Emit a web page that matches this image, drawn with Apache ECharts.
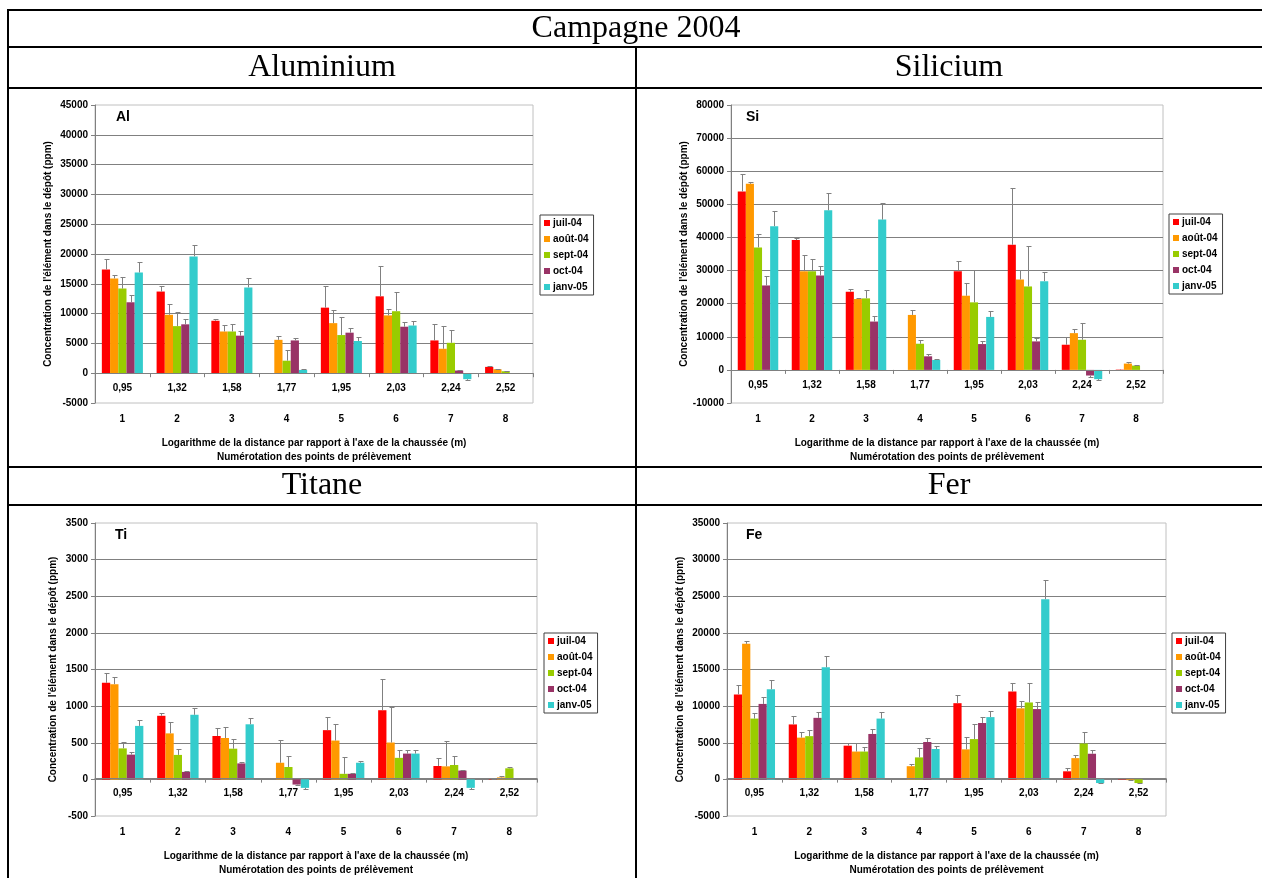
<!DOCTYPE html>
<html>
<head>
<meta charset="utf-8">
<script src="https://cdn.jsdelivr.net/npm/echarts@6.0.0/dist/echarts.min.js"></script>
<style>
html, body { margin: 0; padding: 0; background: #fff; }
#main { width: 1262px; height: 878px; }
</style>
</head>
<body>
<div id="main"></div>
<script>
// categories and series names
var logLabels = ['0,95', '1,32', '1,58', '1,77', '1,95', '2,03', '2,24', '2,52'];
var pointLabels = ['1', '2', '3', '4', '5', '6', '7', '8'];
var months = ['juil-04', 'août-04', 'sept-04', 'oct-04', 'janv-05'];
var colors = ['#FF0000', '#FF9900', '#99CC00', '#993366', '#33CCCC'];

// Aluminium (ppm), one row per month
var alMean = [
    [17400, 13700, 8800, null, 11000, 12900, 5500, 1060],
    [15900, 9800, 7000, 5600, 8400, 9700, 4100, 670],
    [14200, 7900, 7000, 2100, 6400, 10400, 5100, 330],
    [11900, 8200, 6300, 5500, 6800, 7800, 450, null],
    [16900, 19600, 14400, 550, 5400, 8000, -1000, null]
];
var alErr = [
    [1800, 900, 300, null, 3600, 5100, 2700, 140],
    [600, 1800, 1100, 700, 2200, 1000, 3900, 60],
    [1900, 2400, 1300, 1800, 3000, 3300, 2200, 60],
    [1200, 900, 700, 400, 800, 800, 150, null],
    [1800, 1900, 1600, 150, 700, 800, 100, null]
];

// Silicium
var siMean = [
    [53900, 39200, 23600, null, 29800, 37800, 7600, 100],
    [56200, 29800, 21400, 16600, 22400, 27300, 11100, 1900],
    [37000, 29800, 21600, 7900, 20400, 25200, 9100, 1300],
    [25500, 28500, 14600, 4100, 7800, 8600, -1700, null],
    [43400, 48200, 45400, 3000, 16000, 26800, -2800, null]
];
var siErr = [
    [5400, 700, 900, null, 3100, 17000, 2300, 0],
    [400, 4800, 400, 1600, 3800, 2900, 1300, 400],
    [3900, 3600, 2400, 1000, 9700, 12300, 5100, 200],
    [2800, 3000, 1600, 600, 800, 1000, 400, null],
    [4600, 5100, 4900, 400, 1800, 2700, 400, null]
];

// Titane
var tiMean = [
    [1318, 868, 592, null, 672, 944, 183, 5],
    [1300, 628, 565, 227, 530, 503, 178, 27],
    [423, 334, 419, 169, 76, 294, 196, 151],
    [338, 102, 218, -71, 76, 352, 120, null],
    [730, 882, 752, -116, 227, 352, -116, null]
];
var tiErr = [
    [138, 40, 111, null, 174, 432, 102, 0],
    [102, 160, 156, 307, 231, 485, 347, 13],
    [85, 80, 133, 151, 231, 111, 124, 23],
    [36, 14, 18, 9, 9, 53, 14, null],
    [80, 93, 81, 9, 27, 53, 9, null]
];

// Fer
var feMean = [
    [11600, 7500, 4600, null, 10400, 12000, 1100, 180],
    [18500, 5700, 3800, 1800, 4100, 9700, 2900, -100],
    [8300, 5900, 3800, 3000, 5500, 10500, 4900, -500],
    [10300, 8400, 6200, 5100, 7700, 9600, 3500, null],
    [12300, 15300, 8300, 4150, 8500, 24600, -500, null]
];
var feErr = [
    [1300, 1100, 300, null, 1100, 1200, 400, 40],
    [400, 700, 1100, 300, 1700, 1000, 400, 0],
    [800, 800, 600, 1300, 2000, 2700, 1500, 50],
    [1000, 800, 700, 500, 800, 1000, 500, null],
    [1300, 1500, 900, 350, 900, 2600, 50, null]
];

var FONT = '"Liberation Sans", Arial, sans-serif';
var yTitle = "Concentration de l'élément dans le dépôt (ppm)";
var xTitle = "Logarithme de la distance par rapport à l'axe de la chaussée (m)\nNumérotation des points de prélèvement";

var panels = [
    { sym: 'Al', mean: alMean, err: alErr, min: -5000, max: 45000, step: 5000,
      box: [95, 105, 438, 298], legend: [540, 215], symPos: [116, 117], nameGap: 42 },
    { sym: 'Si', mean: siMean, err: siErr, min: -10000, max: 80000, step: 10000,
      box: [731, 105, 432, 298], legend: [1169, 214], symPos: [746, 117], nameGap: 42 },
    { sym: 'Ti', mean: tiMean, err: tiErr, min: -500, max: 3500, step: 500,
      box: [95, 523, 442, 299], legend: [544, 633], symPos: [115, 535], nameGap: 37 },
    { sym: 'Fe', mean: feMean, err: feErr, min: -5000, max: 35000, step: 5000,
      box: [727, 523, 439, 299], legend: [1172, 633], symPos: [746, 535], nameGap: 42 }
];

function renderErrorBar(params, api) {
    var cat = api.value(0), k = api.value(1), v = api.value(2), e = api.value(3);
    var band = api.size([1, 0])[0];
    var bw = band * 0.75 / months.length;
    var x = Math.round(api.coord([cat, 0])[0] + (k - 2) * bw) + 0.5;
    var yBar = api.coord([cat, v])[1];
    var yEnd = Math.round(api.coord([cat, v < 0 ? v - e : v + e])[1]) + 0.5;
    var st = { stroke: '#808080', lineWidth: 1 };
    return {
        type: 'group',
        children: [
            { type: 'line', shape: { x1: x, y1: yBar, x2: x, y2: yEnd }, style: st },
            { type: 'line', shape: { x1: x - 2, y1: yEnd, x2: x + 3, y2: yEnd }, style: st }
        ]
    };
}

var grids = [], xAxes = [], yAxes = [], series = [], legends = [];
var labelStyle = { fontFamily: FONT, fontWeight: 'bold', fontSize: 10, color: '#000' };

// table lines and headers
var graphics = [
    { type: 'rect', shape: { x: 7, y: 9, width: 1255, height: 2 }, style: { fill: '#000' } },
    { type: 'rect', shape: { x: 7, y: 46, width: 1255, height: 2 }, style: { fill: '#000' } },
    { type: 'rect', shape: { x: 7, y: 87, width: 1255, height: 2 }, style: { fill: '#000' } },
    { type: 'rect', shape: { x: 7, y: 466, width: 1255, height: 2 }, style: { fill: '#000' } },
    { type: 'rect', shape: { x: 7, y: 504, width: 1255, height: 2 }, style: { fill: '#000' } },
    { type: 'rect', shape: { x: 7, y: 9, width: 2, height: 869 }, style: { fill: '#000' } },
    { type: 'rect', shape: { x: 635, y: 46, width: 2, height: 832 }, style: { fill: '#000' } }
];
var headers = [['Campagne 2004', 636, 29], ['Aluminium', 322, 68], ['Silicium', 949, 68],
               ['Titane', 322, 486], ['Fer', 949, 486]];
headers.forEach(function (h) {
    graphics.push({ type: 'text', x: h[1], y: h[2],
        style: { text: h[0], font: '32px "Liberation Serif", "Times New Roman", serif',
                 fill: '#000', align: 'center', verticalAlign: 'middle' } });
});

panels.forEach(function (p, g) {
    grids.push({ left: p.box[0], top: p.box[1], width: p.box[2], height: p.box[3],
        show: true, borderColor: '#c0c0c0', borderWidth: 1 });

    // distance label axis sits on the zero line (shifted up from the grid bottom)
    var zeroLift = p.box[3] * (0 - p.min) / (p.max - p.min);
    xAxes.push({
        type: 'category', gridIndex: g, data: logLabels, position: 'bottom', z: 5,
        offset: -zeroLift,
        axisLine: { onZero: false, lineStyle: { color: '#808080' } },
        axisTick: { show: true, length: 4, lineStyle: { color: '#808080' } },
        axisLabel: Object.assign({ margin: 10, interval: 0 }, labelStyle)
    });
    xAxes.push({
        type: 'category', gridIndex: g, data: pointLabels, position: 'bottom',
        axisLine: { show: false, onZero: false },
        axisTick: { show: false },
        axisLabel: Object.assign({ margin: 11, interval: 0 }, labelStyle),
        name: xTitle, nameLocation: 'middle', nameGap: 33,
        nameTextStyle: Object.assign({ lineHeight: 14 }, labelStyle)
    });
    yAxes.push({
        type: 'value', gridIndex: g, min: p.min, max: p.max, interval: p.step,
        axisLine: { show: true, lineStyle: { color: '#808080' } },
        axisTick: { show: true, length: 4, lineStyle: { color: '#808080' } },
        splitLine: { show: true, showMinLine: false, showMaxLine: false,
                     lineStyle: { color: '#808080' } },
        axisLabel: Object.assign({ margin: 7, formatter: function (v) { return String(v); } }, labelStyle),
        name: yTitle, nameLocation: 'middle', nameGap: p.nameGap,
        nameTextStyle: labelStyle
    });

    var errData = [];
    months.forEach(function (m, i) {
        series.push({
            type: 'bar', name: m, xAxisIndex: 2 * g, yAxisIndex: g,
            data: p.mean[i], barGap: '0%', barCategoryGap: '25%',
            itemStyle: { color: colors[i] }
        });
        p.mean[i].forEach(function (v, c) {
            if (v != null && p.err[i][c] != null) errData.push([c, i, v, p.err[i][c]]);
        });
    });
    series.push({
        type: 'custom', xAxisIndex: 2 * g, yAxisIndex: g, z: 3, silent: true,
        renderItem: renderErrorBar, data: errData, encode: { x: 0, y: 2 }
    });

    legends.push({
        left: p.legend[0], top: p.legend[1], orient: 'vertical', data: months,
        icon: 'rect', itemWidth: 6, itemHeight: 6, itemGap: 4, padding: [2, 5, 2, 4],
        borderColor: '#404040', borderWidth: 1, selectedMode: false,
        textStyle: Object.assign({ lineHeight: 12, padding: [0, 0, 0, -2] }, labelStyle)
    });

    graphics.push({ type: 'text', x: p.symPos[0], y: p.symPos[1],
        style: { text: p.sym, font: 'bold 14px ' + FONT, fill: '#000', verticalAlign: 'middle' } });
});

var myChart = echarts.init(document.getElementById('main'));
myChart.setOption({
    animation: false,
    grid: grids,
    xAxis: xAxes,
    yAxis: yAxes,
    legend: legends,
    series: series,
    graphic: graphics
});
</script>
</body>
</html>
